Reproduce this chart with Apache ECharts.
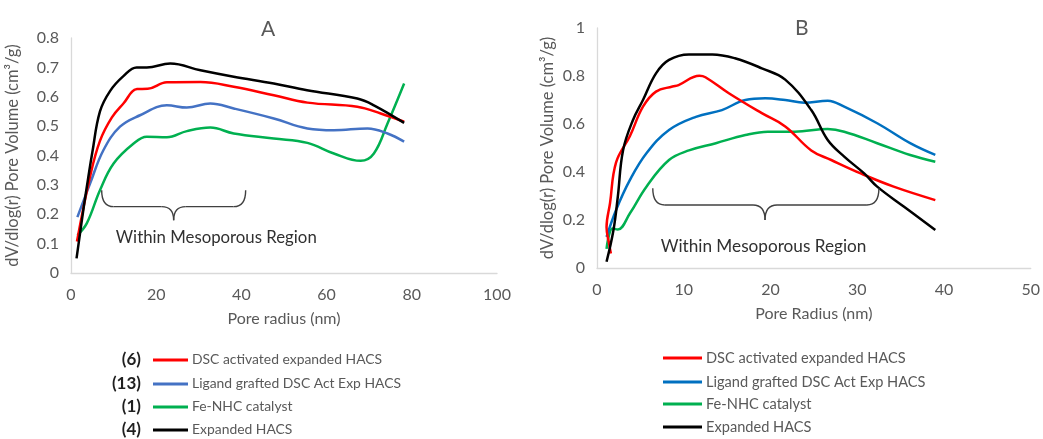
<!DOCTYPE html>
<html>
<head>
<meta charset="utf-8">
<script src="https://cdn.jsdelivr.net/npm/echarts@6/dist/echarts.min.js"></script>
<style>
  html, body { margin: 0; padding: 0; background: #fff; }
  #chart { width: 1043px; height: 439px; }
</style>
</head>
<body>
<div id="chart"></div>
<script>
// panel A - pore radius (nm) / dV/dlog(r)
const aRedX = [1.4, 4.5, 6.8, 9.6, 12.3, 15.5, 18, 22.5, 30.4, 38.2, 47.6, 55.5, 67.2, 72.7, 78.2]
const aRedY = [0.107, 0.33, 0.45, 0.53, 0.577, 0.626, 0.627, 0.649, 0.65, 0.634, 0.605, 0.58, 0.566, 0.543, 0.515]
const aBlueX = [1.5, 4.5, 7.6, 11.5, 16.2, 22.5, 27.2, 32.7, 38.2, 47.6, 55.5, 61.7, 69.6, 74.3, 78.2]
const aBlueY = [0.19, 0.305, 0.418, 0.498, 0.537, 0.571, 0.563, 0.577, 0.56, 0.526, 0.492, 0.486, 0.492, 0.475, 0.447]
const aGreenX = [1.5, 3.7, 6.8, 10, 14.7, 17.8, 22.5, 27.2, 32.7, 38.2, 47.6, 55.5, 61.7, 68, 71.1, 74.3, 78.2]
const aGreenY = [0.129, 0.169, 0.282, 0.373, 0.441, 0.464, 0.462, 0.483, 0.495, 0.475, 0.458, 0.443, 0.407, 0.382, 0.407, 0.509, 0.645]
const aBlackX = [1.3, 3, 4, 5, 6.8, 9.2, 12.3, 15.4, 17.8, 23.3, 30.4, 38.2, 47.6, 55.4, 67.2, 71.1, 78.2]
const aBlackY = [0.05, 0.225, 0.32, 0.41, 0.55, 0.62, 0.67, 0.7, 0.7, 0.713, 0.69, 0.668, 0.645, 0.622, 0.594, 0.571, 0.511]

// panel B
const bRedX = [1.6, 1.4, 1.1, 1.5, 2.2, 3.8, 5.3, 6.8, 8.7, 9.4, 11.8, 12.5, 15.2, 19, 21.7, 24.7, 27, 30.4, 34.2, 39]
const bRedY = [0.06, 0.1, 0.17, 0.27, 0.44, 0.55, 0.672, 0.735, 0.756, 0.762, 0.801, 0.795, 0.728, 0.645, 0.59, 0.49, 0.45, 0.394, 0.339, 0.283]
const bBlueX = [1.1, 2.2, 3.8, 5.7, 8.3, 11.4, 14.4, 17.1, 19.4, 21.7, 23.9, 26.6, 28.5, 32.3, 36.1, 39]
const bBlueY = [0.13, 0.242, 0.367, 0.478, 0.575, 0.63, 0.658, 0.7, 0.707, 0.7, 0.689, 0.697, 0.672, 0.603, 0.52, 0.471]
const bGreenX = [1.1, 1.8, 2.4, 3.8, 5.7, 8.3, 10.6, 13.7, 17.1, 19.7, 22.8, 26.6, 28.5, 32.3, 36.1, 39]
const bGreenY = [0.08, 0.165, 0.16, 0.228, 0.339, 0.45, 0.49, 0.52, 0.554, 0.568, 0.568, 0.579, 0.568, 0.52, 0.471, 0.443]
const bBlackX = [1.1, 1.9, 2.4, 3.0, 4.15, 5.3, 6.8, 8.3, 10.6, 13.3, 15.9, 19, 21.7, 24.7, 26.6, 28.5, 30.8, 32.3, 35.4, 39]
const bBlackY = [0.026, 0.158, 0.297, 0.49, 0.617, 0.7, 0.811, 0.867, 0.89, 0.89, 0.874, 0.832, 0.785, 0.658, 0.533, 0.464, 0.394, 0.339, 0.255, 0.158]

const seriesNames = ['DSC activated expanded HACS', 'Ligand grafted DSC Act Exp HACS', 'Fe-NHC catalyst', 'Expanded HACS']
const sampleNos = ['(6)', '(13)', '(1)', '(4)']
const colorsA = ['#FF0000', '#4472C4', '#00B050', '#000000']
const colorsB = ['#FF0000', '#0070C0', '#00B050', '#000000']

// brace annotation in data units: [xLeft, xRight, xMid, yEnds, yLine, yTip], text [x, y]
const braceA = [7.2, 41, 24.1, 0.282, 0.226, 0.18]
const braceAText = [34.1, 0.119]
const braceB = [6.43, 32.5, 19.37, 0.332, 0.2625, 0.2]
const braceBText = [19.2, 0.089]
const braceLabel = 'Within Mesoporous Region'

const FONT = 'Lato, "Open Sans", sans-serif'
const GREY = '#595959'

function zip (xs, ys) {
  return xs.map((x, i) => [x, ys[i]])
}

function lineSeries (name, xs, ys, color, idx) {
  return {
    name: name,
    type: 'line',
    xAxisIndex: idx,
    yAxisIndex: idx,
    data: zip(xs, ys),
    smooth: 0.4,
    symbol: 'none',
    lineStyle: { color: color, width: 2.5 },
    itemStyle: { color: color },
    z: 3
  }
}

function xAxisOf (idx, max, name, nameGap) {
  return {
    type: 'value',
    gridIndex: idx,
    min: 0,
    max: max,
    interval: max / 5,
    name: name,
    nameLocation: 'middle',
    nameGap: nameGap,
    nameTextStyle: { color: GREY, fontSize: 16, fontFamily: FONT },
    axisLine: { show: true, lineStyle: { color: '#D9D9D9', width: 1.3 } },
    axisTick: { show: false },
    splitLine: { show: false },
    axisLabel: { color: GREY, fontSize: 16, fontFamily: FONT, margin: 14 }
  }
}

function yAxisOf (idx, max, interval, nameGap) {
  return {
    type: 'value',
    gridIndex: idx,
    min: 0,
    max: max,
    interval: interval,
    name: 'dV/dlog(r) Pore Volume (cm³/g)',
    nameLocation: 'middle',
    nameRotate: 90,
    nameGap: nameGap,
    nameTextStyle: { color: GREY, fontSize: 16.5, fontFamily: FONT },
    axisLine: { show: true, lineStyle: { color: '#D9D9D9', width: 1.3 } },
    axisTick: { show: false },
    splitLine: { show: false },
    axisLabel: { color: GREY, fontSize: 16, fontFamily: FONT, margin: 12 }
  }
}

const chart = echarts.init(document.getElementById('chart'), null, { renderer: 'canvas' })

const option = {
  backgroundColor: '#fff',
  animation: false,
  title: [
    { text: 'A', left: 256, top: 14, textStyle: { color: GREY, fontSize: 21, fontWeight: 'normal', fontFamily: FONT } },
    { text: 'B', left: 790, top: 13, textStyle: { color: GREY, fontSize: 21, fontWeight: 'normal', fontFamily: FONT } }
  ],
  grid: [
    { left: 71, top: 38, width: 426, height: 235 },
    { left: 597, top: 28, width: 437, height: 240 }
  ],
  xAxis: [
    xAxisOf(0, 100, 'Pore radius (nm)', 38),
    xAxisOf(1, 50, 'Pore Radius (nm)', 38)
  ],
  yAxis: [
    yAxisOf(0, 0.8, 0.1, 50),
    yAxisOf(1, 1, 0.2, 41)
  ],
  series: [
    lineSeries(seriesNames[2], aGreenX, aGreenY, colorsA[2], 0),
    lineSeries(seriesNames[1], aBlueX, aBlueY, colorsA[1], 0),
    lineSeries(seriesNames[0], aRedX, aRedY, colorsA[0], 0),
    lineSeries(seriesNames[3], aBlackX, aBlackY, colorsA[3], 0),
    lineSeries(seriesNames[2], bGreenX, bGreenY, colorsB[2], 1),
    lineSeries(seriesNames[1], bBlueX, bBlueY, colorsB[1], 1),
    lineSeries(seriesNames[0], bRedX, bRedY, colorsB[0], 1),
    lineSeries(seriesNames[3], bBlackX, bBlackY, colorsB[3], 1)
  ]
}
chart.setOption(option)

// brace + text, positioned through the axes
function braceGraphics (brace, textPos, gridIndex, fontSize) {
  const conv = (x, y) => chart.convertToPixel({ gridIndex: gridIndex }, [x, y])
  const [xl, yEnd] = conv(brace[0], brace[3])
  const [xr] = conv(brace[1], brace[3])
  const [xm, yLine] = conv(brace[2], brace[4])
  const [, yTip] = conv(brace[2], brace[5])
  const r = 12
  const st = { stroke: '#404040', lineWidth: 1.4, fill: null }
  const curve = (x1, y1, cx, cy, x2, y2) => ({
    type: 'bezierCurve', shape: { x1: x1, y1: y1, cpx1: cx, cpy1: cy, x2: x2, y2: y2 }, style: st, z: 5
  })
  const seg = (x1, x2) => ({ type: 'line', shape: { x1: x1, y1: yLine, x2: x2, y2: yLine }, style: st, z: 5 })
  const [tx, ty] = conv(textPos[0], textPos[1])
  return [
    curve(xl, yEnd, xl, yLine, xl + r, yLine),
    seg(xl + r, xm - r),
    curve(xm - r, yLine, xm, yLine, xm, yTip),
    curve(xm, yTip, xm, yLine, xm + r, yLine),
    seg(xm + r, xr - r),
    curve(xr - r, yLine, xr, yLine, xr, yEnd),
    {
      type: 'text',
      x: tx,
      y: ty,
      style: { text: braceLabel, fill: '#303030', fontSize: fontSize, fontFamily: FONT, align: 'center', verticalAlign: 'middle' },
      z: 5
    }
  ]
}

// legends drawn as graphics (same names in both panels, different blues)
function legendGraphics (lineX0, lineX1, rowsY, colors, withNos, fontSize) {
  const out = []
  rowsY.forEach((y, i) => {
    out.push({ type: 'line', shape: { x1: lineX0, y1: y, x2: lineX1, y2: y }, style: { stroke: colors[i], lineWidth: 3 } })
    out.push({
      type: 'text', x: lineX1 + 4, y: y,
      style: { text: seriesNames[i], fill: GREY, fontSize: fontSize, fontFamily: FONT, verticalAlign: 'middle' }
    })
    if (withNos) {
      out.push({
        type: 'text', x: lineX0 - 12, y: y,
        style: { text: sampleNos[i], fill: '#1F1F1F', fontSize: 17, fontWeight: 'bold', fontFamily: FONT, align: 'right', verticalAlign: 'middle' }
      })
    }
  })
  return out
}

chart.setOption({
  graphic: [
    ...braceGraphics(braceA, braceAText, 0, 16.8),
    ...braceGraphics(braceB, braceBText, 1, 17.2),
    ...legendGraphics(153, 188, [360, 384, 407, 430], colorsA, true, 13.9),
    ...legendGraphics(663, 702, [358, 382, 404, 427], colorsB, false, 14.6)
  ]
})

window.addEventListener('resize', () => {
  chart.resize()
})
</script>
</body>
</html>
